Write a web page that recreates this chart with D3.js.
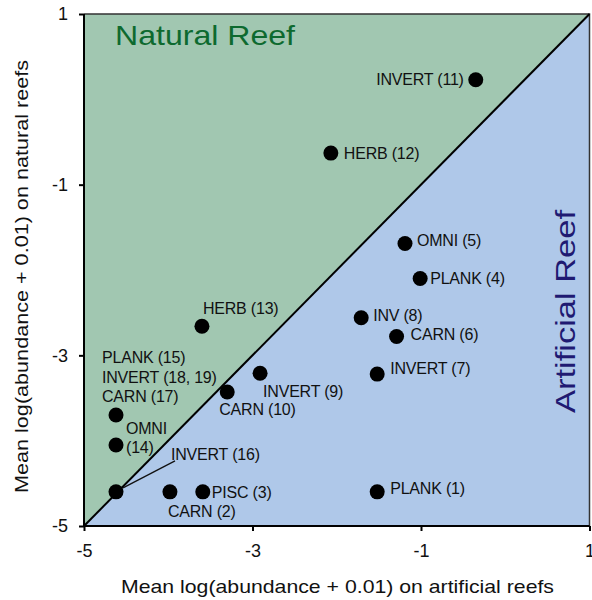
<!DOCTYPE html>
<html>
<head>
<meta charset="utf-8">
<script src="https://cdn.jsdelivr.net/npm/d3@7"></script>
<style>
  body { margin: 0; background: #fff; }
  text { font-family: "Liberation Sans", Arial, sans-serif; }
</style>
</head>
<body>
<div id="vis-holder"></div>
<script>
// Chart data
const groups = ["PLANK (1)", "CARN (2)", "PISC (3)", "PLANK (4)", "OMNI (5)", "CARN (6)", "INVERT (7)",
                "INV (8)", "INVERT (9)", "CARN (10)", "INVERT (11)", "HERB (12)", "HERB (13)",
                "OMNI (14)", "INVERT (16)", "PLANK/INVERT/CARN (15,17,18,19)"];
const artificial = [-1.52, -3.98, -3.59, -1.01, -1.19, -1.29, -1.52, -1.71, -2.91, -3.30, -0.35, -2.07, -3.60, -4.62, -4.62, -4.62];
const natural    = [-4.60, -4.60, -4.60, -2.10, -1.69, -2.78, -3.22, -2.56, -3.21, -3.43, 0.23, -0.63, -2.66, -4.05, -4.60, -3.70];
const tickValues = [-5, -3, -1, 1];

// label text lines and offsets (px) relative to each point
const labelLines = [["PLANK (1)"], ["CARN (2)"], ["PISC (3)"], ["PLANK (4)"], ["OMNI (5)"], ["CARN (6)"], ["INVERT (7)"],
                    ["INV (8)"], ["INVERT (9)"], ["CARN (10)"], ["INVERT (11)"], ["HERB (12)"], ["HERB (13)"],
                    ["OMNI", "(14)"], ["INVERT (16)"], ["PLANK (15)", "INVERT (18, 19)", "CARN (17)"]];
const labelDx = [13, -2, 9, 10, 12, 14, 13, 12, 3, -8, -12, 13, 1, 10, 55, -14];
const labelDy = [2, 25, 6, 5, 2, 3, 0, 3, 24, 23, 5, 6, -12, -11, -32, -52];
const labelAnchor = ["start", "start", "start", "start", "start", "start", "start", "start", "start", "start", "end",
                     "start", "start", "start", "start", "start"];

// Set margins and dimensions
const margin = { top: 14, right: 2, bottom: 74, left: 84 };
const width = 592;
const height = 600;

const svg = d3.select("#vis-holder")
              .append("svg")
              .attr("width", width)
              .attr("height", height);

const x = d3.scaleLinear()
            .domain([-5, 1])
            .range([margin.left, width - margin.right - 0.5]);

const y = d3.scaleLinear()
            .domain([-5, 1])
            .range([height - margin.bottom, margin.top]);

// Background regions: natural (upper-left) and artificial (lower-right)
svg.append("path")
   .attr("d", `M${x(-5)},${y(-5)} L${x(-5)},${y(1)} L${x(1)},${y(1)} Z`)
   .attr("fill", "#a1c7b1");

svg.append("path")
   .attr("d", `M${x(-5)},${y(-5)} L${x(1)},${y(1)} L${x(1)},${y(-5)} Z`)
   .attr("fill", "#afc8e9");

// frame (top & right)
svg.append("path")
   .attr("d", `M${x(-5)},${y(1)} L${x(1)},${y(1)} L${x(1)},${y(-5)}`)
   .attr("fill", "none")
   .attr("stroke", "#333")
   .attr("stroke-width", 1.5);

// 1:1 line
svg.append("line")
   .attr("x1", x(-5)).attr("y1", y(-5))
   .attr("x2", x(1)).attr("y2", y(1))
   .attr("stroke", "black")
   .attr("stroke-width", 2);

// Region titles
svg.append("text")
   .attr("x", 115)
   .attr("y", 45)
   .attr("fill", "#0d6a2f")
   .attr("font-size", "28px")
   .attr("textLength", 180)
   .attr("lengthAdjust", "spacingAndGlyphs")
   .text("Natural Reef");

svg.append("text")
   .attr("transform", `translate(575, 413) rotate(-90)`)
   .attr("fill", "#1f1a72")
   .attr("font-size", "28px")
   .attr("textLength", 203)
   .attr("lengthAdjust", "spacingAndGlyphs")
   .text("Artificial Reef");

// Axes
svg.append("g")
   .attr("transform", `translate(0,${y(-5)})`)
   .call(d3.axisBottom(x).tickValues(tickValues).tickSize(5).tickPadding(13).tickFormat(d3.format("d")))
   .call((g) => g.select(".domain").attr("stroke-width", 2).attr("d", `M${x(-5)},0H${x(1)}`))
   .call((g) => g.selectAll(".tick line").attr("stroke-width", 2))
   .call((g) => g.selectAll(".tick text").attr("font-size", "18px").attr("fill", "#111")
                  .text((d) => d < 0 ? "-" + Math.abs(d) : d))
   .call((g) => g.append("text")
                 .attr("x", 121)
                 .attr("y", 67)
                 .attr("fill", "#111")
                 .attr("text-anchor", "start")
                 .attr("font-size", "19px")
                 .attr("textLength", 433)
                 .attr("lengthAdjust", "spacingAndGlyphs")
                 .text("Mean log(abundance + 0.01) on artificial reefs"));

svg.append("g")
   .attr("transform", `translate(${x(-5)},0)`)
   .call(d3.axisLeft(y).tickValues(tickValues).tickSize(5).tickPadding(11).tickFormat(d3.format("d")))
   .call((g) => g.select(".domain").attr("stroke-width", 2).attr("d", `M0,${y(-5)}V${y(1)}`))
   .call((g) => g.selectAll(".tick line").attr("stroke-width", 2))
   .call((g) => g.selectAll(".tick text").attr("font-size", "18px").attr("fill", "#111")
                  .text((d) => d < 0 ? "-" + Math.abs(d) : d))
   .call((g) => g.append("text")
                 .attr("transform", `translate(-56, 493) rotate(-90)`)
                 .attr("fill", "#111")
                 .attr("text-anchor", "start")
                 .attr("font-size", "19px")
                 .attr("textLength", 433)
                 .attr("lengthAdjust", "spacingAndGlyphs")
                 .text("Mean log(abundance + 0.01) on natural reefs"));

const data = groups.map((g, i) => ({ group: g, ax: artificial[i], nat: natural[i], i: i }));

// leader line for INVERT (16)
const d16 = data[14];
svg.append("line")
   .attr("x1", x(d16.ax) + 7).attr("y1", y(d16.nat) - 4)
   .attr("x2", x(d16.ax) + 59).attr("y2", y(d16.nat) - 31)
   .attr("stroke", "#111")
   .attr("stroke-width", 1.3);

// Points
svg.selectAll("circle.pt")
   .data(data)
   .enter()
   .append("circle")
   .attr("class", "pt")
   .attr("cx", (d) => x(d.ax))
   .attr("cy", (d) => y(d.nat))
   .attr("r", 7.5)
   .attr("fill", "black");

// Labels
const labels = svg.selectAll("text.lbl")
   .data(data)
   .enter()
   .append("text")
   .attr("class", "lbl")
   .attr("x", (d) => x(d.ax) + labelDx[d.i])
   .attr("y", (d) => y(d.nat) + labelDy[d.i])
   .attr("text-anchor", (d) => labelAnchor[d.i])
   .attr("font-size", "16px")
   .attr("letter-spacing", "-0.2px")
   .attr("fill", "#111");

labels.each(function(d) {
  const t = d3.select(this);
  labelLines[d.i].forEach((line, k) => {
    t.append("tspan")
     .attr("x", x(d.ax) + labelDx[d.i])
     .attr("dy", k === 0 ? 0 : 19.5)
     .text(line);
  });
});
</script>
</body>
</html>
